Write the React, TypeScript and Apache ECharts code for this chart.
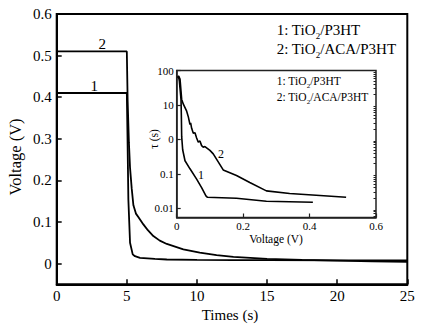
import React, { useEffect, useRef } from "react";
import * as echarts from "echarts";

// Main panel: open-circuit voltage decay
const mainT1 = [0, 5.0, 5.05, 5.11, 5.23, 5.42, 5.58, 5.94, 7.0, 7.85, 10, 12.6, 15, 20, 25];
const mainV1 = [0.41, 0.41, 0.3, 0.154, 0.05, 0.022, 0.0176, 0.0137, 0.011, 0.0096, 0.0085, 0.008, 0.008, 0.0077, 0.0075];
const mainT2 = [0, 5.0, 5.06, 5.15, 5.23, 5.35, 5.47, 5.65, 5.82, 6.18, 6.5, 6.89, 7.35, 7.85, 9.03, 10.2, 11.4, 12.6, 15, 17.5, 20, 22.5, 25];
const mainV2 = [0.51, 0.51, 0.39, 0.29, 0.23, 0.18, 0.14, 0.12, 0.112, 0.094, 0.08, 0.066, 0.055, 0.047, 0.034, 0.026, 0.02, 0.016, 0.011, 0.0085, 0.007, 0.005, 0.004];
const mainXTicks = [0, 5, 10, 15, 20, 25];
const mainYTicks = [0, 0.1, 0.2, 0.3, 0.4, 0.5, 0.6];

// Inset: electron lifetime vs voltage
const insetV1 = [0.005, 0.008, 0.01, 0.013, 0.014, 0.015, 0.018, 0.025, 0.04, 0.06, 0.075, 0.088, 0.092, 0.18, 0.27, 0.34, 0.41];
const insetTau1 = [70, 50, 30, 14.5, 5, 1.2, 0.5, 0.24, 0.14, 0.07, 0.04, 0.023, 0.021, 0.0195, 0.016, 0.0155, 0.015];
const insetV2 = [0.004, 0.005, 0.007, 0.01, 0.015, 0.02, 0.03, 0.035, 0.04, 0.042, 0.045, 0.05, 0.055, 0.06, 0.065, 0.07, 0.075, 0.08, 0.085, 0.1, 0.11, 0.14, 0.18, 0.22, 0.27, 0.34, 0.42, 0.51];
const insetTau2 = [60, 70, 65, 56, 14.5, 10.5, 6.6, 4.5, 2.7, 3.0, 2.1, 1.5, 1.55, 1.1, 0.83, 0.9, 0.66, 0.59, 0.62, 0.48, 0.38, 0.13, 0.089, 0.056, 0.032, 0.027, 0.024, 0.021];
const insetYTickValues = [0.01, 0.1, 1, 10, 100];
const insetYTickLabels = ["0.01", "0.1", "0", "10", "100"];
const insetYMinorTicks = [
  0.006, 0.007, 0.008, 0.009,
  0.02, 0.03, 0.04, 0.05, 0.06, 0.07, 0.08, 0.09,
  0.2, 0.3, 0.4, 0.5, 0.6, 0.7, 0.8, 0.9,
  2, 3, 4, 5, 6, 7, 8, 9,
  20, 30, 40, 50, 60, 70, 80, 90,
];
const insetXTicks = [0, 0.2, 0.4, 0.6];

const seriesNames = ["1: TiO{s|2}/P3HT", "2: TiO{s|2}/ACA/P3HT"];
const curveLabels = ["1", "2"];

const FONT = '"Liberation Serif", "Times New Roman", serif';

function zip(a: number[], b: number[]) {
  return a.map((v, i) => [v, b[i]]);
}

export default function App() {
  const ref = useRef<HTMLDivElement>(null);
  useEffect(() => {
    if (!ref.current) return;
    const chart = echarts.init(ref.current, undefined, { renderer: "svg" });
    const lineStyle = { color: "#000", width: 1.8 };
    const subRich = (fs: number) => ({
      n: { fontSize: fs, fontFamily: FONT, color: "#000", verticalAlign: "middle", lineHeight: fs + 6 },
      s: { fontSize: Math.round(fs * 0.62), fontFamily: FONT, color: "#000", verticalAlign: "bottom", lineHeight: fs + 6 },
    });
    const legendText = (t: string) =>
      t
        .split(/(\{s\|2\})/)
        .map((p) => (p === "{s|2}" ? p : p ? `{n|${p}}` : ""))
        .join("");

    chart.setOption({
      animation: false,
      textStyle: { fontFamily: FONT, color: "#000" },
      grid: [
        { left: 56.7, right: 26.7, top: 14, bottom: 43.7, show: true, borderColor: "#000", borderWidth: 2, backgroundColor: "#fff" },
        { left: 176.7, right: 58, top: 70.5, bottom: 110.5, show: true, borderColor: "#222", borderWidth: 1.5, backgroundColor: "#fff" },
      ],
      xAxis: [
        {
          type: "value", gridIndex: 0, min: 0, max: 25, interval: 5,
          axisLine: { show: true, onZero: false, lineStyle: { color: "#000", width: 2 } },
          axisTick: { show: true, inside: true, length: 5, lineStyle: { color: "#000", width: 1.5 }, customValues: mainXTicks },
          axisLabel: { fontSize: 15, color: "#000", fontFamily: FONT, margin: 4, customValues: mainXTicks },
          splitLine: { show: false },
        },
        {
          type: "value", gridIndex: 1, min: 0, max: 0.6, interval: 0.2,
          axisLine: { show: true, onZero: false, lineStyle: { color: "#222", width: 1.5 } },
          axisTick: { show: true, inside: true, length: 4, lineStyle: { color: "#222", width: 1.2 }, customValues: insetXTicks },
          axisLabel: { fontSize: 11, color: "#000", fontFamily: FONT, margin: 3, customValues: insetXTicks, formatter: (v: number) => String(+v.toFixed(1)) },
          splitLine: { show: false },
        },
      ],
      yAxis: [
        {
          type: "value", gridIndex: 0, min: -0.05, max: 0.6,
          axisLine: { show: true, onZero: false, lineStyle: { color: "#000", width: 2 } },
          axisTick: { show: true, inside: true, length: 5, lineStyle: { color: "#000", width: 1.5 }, customValues: mainYTicks },
          axisLabel: { fontSize: 15, color: "#000", fontFamily: FONT, margin: 5, customValues: mainYTicks, formatter: (v: number) => String(+v.toFixed(1)) },
          splitLine: { show: false },
        },
        {
          type: "log", logBase: 10, gridIndex: 1, min: 0.0054, max: 100,
          axisLine: { show: true, onZero: false, lineStyle: { color: "#222", width: 1.5 } },
          axisTick: { show: true, inside: true, length: 4, lineStyle: { color: "#222", width: 1.2 }, customValues: insetYTickValues },
          axisLabel: {
            fontSize: 11, color: "#000", fontFamily: FONT, margin: 3, customValues: insetYTickValues,
            formatter: (v: number) => {
              const i = insetYTickValues.findIndex((t) => Math.abs(Math.log10(t) - Math.log10(v)) < 1e-6);
              return i >= 0 ? insetYTickLabels[i] : "";
            },
          },
          splitLine: { show: false },
        },
        {
          type: "log", logBase: 10, gridIndex: 1, min: 0.0054, max: 100,
          axisLine: { show: false, onZero: false },
          axisTick: { show: true, inside: true, length: 2.5, lineStyle: { color: "#222", width: 1 }, customValues: insetYMinorTicks },
          axisLabel: { show: false },
          splitLine: { show: false },
        },
      ],
      series: [
        { type: "line", xAxisIndex: 0, yAxisIndex: 0, data: zip(mainT1, mainV1), showSymbol: false, lineStyle, silent: true },
        { type: "line", xAxisIndex: 0, yAxisIndex: 0, data: zip(mainT2, mainV2), showSymbol: false, lineStyle, silent: true },
        { type: "line", xAxisIndex: 1, yAxisIndex: 1, data: zip(insetV1, insetTau1), showSymbol: false, lineStyle: { color: "#000", width: 1.6 }, silent: true },
        { type: "line", xAxisIndex: 1, yAxisIndex: 1, data: zip(insetV2, insetTau2), showSymbol: false, lineStyle: { color: "#000", width: 1.6 }, silent: true },
      ],
      graphic: [
        { type: "text", left: 276.7, top: 22, style: { text: legendText(seriesNames[0]), rich: subRich(15) } },
        { type: "text", left: 276.7, top: 41, style: { text: legendText(seriesNames[1]), rich: subRich(15) } },
        { type: "text", left: 276.7, top: 75, style: { text: legendText(seriesNames[0]), rich: subRich(11.5) } },
        { type: "text", left: 276.7, top: 91, style: { text: legendText(seriesNames[1]), rich: subRich(11.5) } },
        { type: "text", x: 102.3, y: 44, style: { text: curveLabels[1], font: `15px ${FONT}`, fill: "#000", align: "center", verticalAlign: "middle" } },
        { type: "text", x: 94.3, y: 86, style: { text: curveLabels[0], font: `15px ${FONT}`, fill: "#000", align: "center", verticalAlign: "middle" } },
        { type: "text", x: 221, y: 153.5, style: { text: curveLabels[1], font: `12px ${FONT}`, fill: "#000", align: "center", verticalAlign: "middle" } },
        { type: "text", x: 201, y: 175, style: { text: curveLabels[0], font: `12px ${FONT}`, fill: "#000", align: "center", verticalAlign: "middle" } },
        { type: "text", x: 230, y: 315, style: { text: "Times (s)", font: `15px ${FONT}`, fill: "#000", align: "center", verticalAlign: "middle" } },
        { type: "text", x: 15, y: 157, rotation: Math.PI / 2, style: { text: "Voltage (V)", font: `16.5px ${FONT}`, fill: "#000", align: "center", verticalAlign: "middle" } },
        { type: "text", x: 276, y: 238.5, style: { text: "Voltage (V)", font: `11.5px ${FONT}`, fill: "#000", align: "center", verticalAlign: "middle" } },
        { type: "text", x: 154, y: 139, rotation: Math.PI / 2, style: { text: "τ (s)", font: `11.5px ${FONT}`, fill: "#000", align: "center", verticalAlign: "middle" } },
      ],
    });
    return () => chart.dispose();
  }, []);
  return <div ref={ref} style={{ width: 434, height: 328, position: "absolute", left: 0, top: 0 }} />;
}
